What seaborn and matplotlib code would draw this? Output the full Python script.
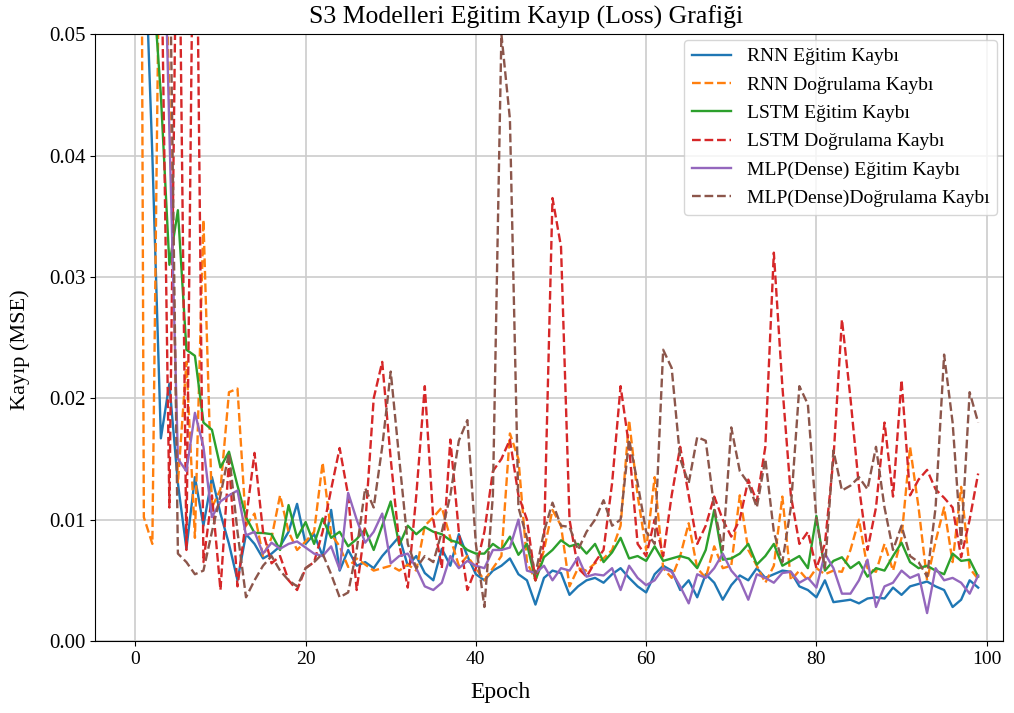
import numpy as np
import pandas as pd
import seaborn as sns
import matplotlib.pyplot as plt

epochs = list(range(100))

rnn_train = [0.080, 0.060, 0.040, 0.0167, 0.0212, 0.0130, 0.0076, 0.0135, 0.0095, 0.0135,
             0.0105, 0.0080, 0.0050, 0.0088, 0.0080, 0.0068, 0.0072, 0.0078, 0.0090, 0.0113,
             0.0080, 0.0088, 0.0070, 0.0108, 0.0058, 0.0075, 0.0062, 0.0065, 0.0060, 0.0070,
             0.0078, 0.0086, 0.0062, 0.0070, 0.0056, 0.0050, 0.0076, 0.0062, 0.0088, 0.0070,
             0.0055, 0.0050, 0.0058, 0.0062, 0.0068, 0.0055, 0.0050, 0.0030, 0.0052, 0.0058,
             0.0056, 0.0038, 0.0045, 0.0050, 0.0052, 0.0048, 0.0055, 0.0060, 0.0052, 0.0045,
             0.0040, 0.0055, 0.0062, 0.0058, 0.0042, 0.0050, 0.0036, 0.0055, 0.0048, 0.0034,
             0.0046, 0.0054, 0.0050, 0.0060, 0.0052, 0.0055, 0.0058, 0.0057, 0.0045, 0.0042,
             0.0036, 0.0050, 0.0032, 0.0033, 0.0034, 0.0031, 0.0035, 0.0036, 0.0035, 0.0044,
             0.0038, 0.0045, 0.0047, 0.0049, 0.0045, 0.0042, 0.0028, 0.0034, 0.0050, 0.0044]

rnn_val = [0.200, 0.0102, 0.0080, 0.070, 0.045, 0.0130, 0.0230, 0.0085, 0.0347, 0.0110,
           0.0125, 0.0205, 0.0208, 0.0095, 0.0105, 0.0070, 0.0085, 0.0120, 0.0090, 0.0075,
           0.0082, 0.0090, 0.0147, 0.0088, 0.0078, 0.0061, 0.0068, 0.0063, 0.0058, 0.0060,
           0.0062, 0.0058, 0.0063, 0.0058, 0.0095, 0.0102, 0.0110, 0.0085, 0.0062, 0.0070,
           0.0060, 0.0050, 0.0060, 0.0070, 0.0171, 0.0150, 0.0065, 0.0050, 0.0075, 0.0108,
           0.0095, 0.0045, 0.0060, 0.0058, 0.0064, 0.0068, 0.0075, 0.0095, 0.0182, 0.0120,
           0.0075, 0.0135, 0.0060, 0.0052, 0.0070, 0.0097, 0.0060, 0.0052, 0.0078, 0.0060,
           0.0062, 0.0120, 0.0075, 0.0062, 0.0048, 0.0062, 0.0119, 0.0050, 0.0058, 0.0050,
           0.0060, 0.0055, 0.0058, 0.0057, 0.0075, 0.0100, 0.0060, 0.0057, 0.0080, 0.0058,
           0.0085, 0.0160, 0.0110, 0.0050, 0.0082, 0.0110, 0.0065, 0.0127, 0.0060, 0.0051]

lstm_train = [0.120, 0.075, 0.055, 0.045, 0.0310, 0.0355, 0.0240, 0.0235, 0.0180, 0.0174,
              0.0143, 0.0156, 0.0128, 0.0102, 0.0089, 0.0089, 0.0088, 0.0075, 0.0112, 0.0085,
              0.0098, 0.0080, 0.0101, 0.0085, 0.0090, 0.0078, 0.0084, 0.0092, 0.0075, 0.0095,
              0.0115, 0.0079, 0.0095, 0.0088, 0.0094, 0.0090, 0.0088, 0.0083, 0.0081, 0.0075,
              0.0072, 0.0072, 0.0080, 0.0075, 0.0086, 0.0071, 0.0080, 0.0050, 0.0069, 0.0075,
              0.0083, 0.0078, 0.0080, 0.0072, 0.0080, 0.0065, 0.0073, 0.0085, 0.0068, 0.0070,
              0.0066, 0.0078, 0.0066, 0.0068, 0.0070, 0.0068, 0.0060, 0.0075, 0.0108, 0.0067,
              0.0068, 0.0072, 0.0080, 0.0063, 0.0070, 0.0080, 0.0062, 0.0066, 0.0070, 0.0060,
              0.0103, 0.0058, 0.0066, 0.0069, 0.0060, 0.0065, 0.0053, 0.0060, 0.0058, 0.0070,
              0.0081, 0.0065, 0.0060, 0.0062, 0.0058, 0.0055, 0.0072, 0.0066, 0.0067, 0.0053]

lstm_val = [0.150, 0.090, 0.070, 0.060, 0.0110, 0.070, 0.0075, 0.075, 0.0065, 0.0120,
            0.0042, 0.0149, 0.0045, 0.0100, 0.0155, 0.0090, 0.0064, 0.0070, 0.0050, 0.0042,
            0.0060, 0.0065, 0.0090, 0.0125, 0.0159, 0.0120, 0.0042, 0.0095, 0.0200, 0.0230,
            0.0150, 0.0080, 0.0044, 0.0120, 0.0210, 0.0100, 0.0060, 0.0166, 0.0090, 0.0042,
            0.0060, 0.0090, 0.0140, 0.0150, 0.0166, 0.0120, 0.0100, 0.0050, 0.0080, 0.0365,
            0.0325, 0.0100, 0.0060, 0.0053, 0.0065, 0.0075, 0.0130, 0.0210, 0.0160, 0.0080,
            0.0070, 0.0100, 0.0070, 0.0120, 0.0160, 0.0120, 0.0080, 0.0095, 0.0119, 0.0100,
            0.0086, 0.0100, 0.0133, 0.0115, 0.0160, 0.0320, 0.0210, 0.0120, 0.0080, 0.0090,
            0.0060, 0.0080, 0.0150, 0.0265, 0.0200, 0.0127, 0.0075, 0.0110, 0.0180, 0.0119,
            0.0215, 0.0120, 0.0133, 0.0141, 0.0125, 0.0118, 0.0110, 0.0069, 0.0100, 0.0138]

mlp_train = [0.150, 0.100, 0.080, 0.070, 0.042, 0.0150, 0.0140, 0.0188, 0.0160, 0.0102,
             0.0115, 0.0120, 0.0124, 0.0087, 0.0090, 0.0072, 0.0081, 0.0076, 0.0080, 0.0082,
             0.0077, 0.0072, 0.0070, 0.0078, 0.0059, 0.0122, 0.0100, 0.0081, 0.0090, 0.0105,
             0.0064, 0.0070, 0.0072, 0.0060, 0.0045, 0.0042, 0.0048, 0.0070, 0.0060, 0.0066,
             0.0062, 0.0060, 0.0075, 0.0075, 0.0077, 0.0100, 0.0058, 0.0056, 0.0062, 0.0050,
             0.0060, 0.0058, 0.0069, 0.0053, 0.0055, 0.0054, 0.0060, 0.0042, 0.0062, 0.0052,
             0.0046, 0.0050, 0.0060, 0.0057, 0.0045, 0.0031, 0.0055, 0.0052, 0.0060, 0.0072,
             0.0058, 0.0050, 0.0034, 0.0055, 0.0052, 0.0048, 0.0056, 0.0057, 0.0048, 0.0052,
             0.0044, 0.0072, 0.0060, 0.0039, 0.0039, 0.0050, 0.0067, 0.0028, 0.0045, 0.0048,
             0.0058, 0.0052, 0.0055, 0.0023, 0.0060, 0.0050, 0.0052, 0.0048, 0.0039, 0.0054]

mlp_val = [0.250, 0.120, 0.090, 0.070, 0.060, 0.0072, 0.0065, 0.0055, 0.0058, 0.0090,
           0.0120, 0.0155, 0.0090, 0.0036, 0.0050, 0.0062, 0.0070, 0.0058, 0.0050, 0.0045,
           0.0060, 0.0065, 0.0072, 0.0055, 0.0036, 0.0040, 0.0075, 0.0126, 0.0110, 0.0160,
           0.0222, 0.0150, 0.0080, 0.0060, 0.0070, 0.0065, 0.0090, 0.0120, 0.0165, 0.0182,
           0.0080, 0.0028, 0.0120, 0.0500, 0.0430, 0.0110, 0.0085, 0.0055, 0.0090, 0.0114,
           0.0095, 0.0094, 0.0075, 0.0090, 0.0100, 0.0116, 0.0095, 0.0100, 0.0166, 0.0130,
           0.0090, 0.0080, 0.0240, 0.0225, 0.0150, 0.0130, 0.0168, 0.0165, 0.0110, 0.0075,
           0.0176, 0.0140, 0.0130, 0.0110, 0.0150, 0.0090, 0.0065, 0.0110, 0.0210, 0.0195,
           0.0100, 0.0060, 0.0157, 0.0124, 0.0128, 0.0135, 0.0125, 0.0160, 0.0110, 0.0075,
           0.0095, 0.0070, 0.0065, 0.0053, 0.0110, 0.0236, 0.0180, 0.0080, 0.0205, 0.0180]

labels = ['RNN Eğitim Kaybı', 'RNN Doğrulama Kaybı', 'LSTM Eğitim Kaybı',
          'LSTM Doğrulama Kaybı', 'MLP(Dense) Eğitim Kaybı', 'MLP(Dense)Doğrulama Kaybı']
series = [rnn_train, rnn_val, lstm_train, lstm_val, mlp_train, mlp_val]
colors = ['#1f77b4', '#ff7f0e', '#2ca02c', '#d62728', '#9467bd', '#8c564b']
styles = ['-', '--', '-', '--', '-', '--']

plt.rcParams['font.family'] = ['Liberation Serif', 'DejaVu Serif']

fig, ax = plt.subplots(figsize=(10.14, 7.13), dpi=100)
fig.subplots_adjust(left=0.094, right=0.989, top=0.952, bottom=0.101)

for vals, lab, c, ls in zip(series, labels, colors, styles):
    df = pd.DataFrame({'Epoch': epochs, 'Loss': vals})
    sns.lineplot(data=df, x='Epoch', y='Loss', ax=ax, color=c, linestyle=ls,
                 linewidth=1.7, label=lab)

ax.set_xlim(-4.7, 101.9)
ax.set_ylim(0, 0.05)
ax.set_xticks([0, 20, 40, 60, 80, 100])
ax.set_yticks([0.0, 0.01, 0.02, 0.03, 0.04, 0.05])
ax.set_yticklabels(['0.00', '0.01', '0.02', '0.03', '0.04', '0.05'])
ax.tick_params(axis='x', labelsize=14)
ax.tick_params(axis='y', labelsize=15)
ax.grid(True, color='#cccccc', linewidth=1.2)
ax.set_title('S3 Modelleri Eğitim Kayıp (Loss) Grafiği', fontsize=18.5, pad=8, x=0.475)
ax.set_xlabel('Epoch', fontsize=17)
ax.set_ylabel('Kayıp (MSE)', fontsize=16)
ax.xaxis.set_label_coords(0.447, -0.068)
ax.yaxis.set_label_coords(-0.072, 0.48)
ax.legend(loc='upper right', fontsize=14, handlelength=2.0, labelspacing=0.55,
          borderaxespad=0.3)

plt.savefig('out.png', dpi=100)
